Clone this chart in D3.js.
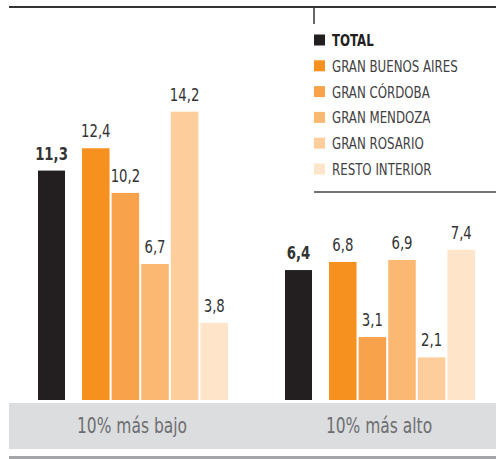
<!DOCTYPE html>
<html>
<head>
<meta charset="utf-8">
<script src="https://cdn.jsdelivr.net/npm/d3@7"></script>
<style>
  body { margin: 0; background: #fff; }
  text { font-family: "DejaVu Sans Condensed", "Liberation Sans", sans-serif; }
</style>
</head>
<body>
<div id="chart"></div>
<script>
// data
let groups = ['10% más bajo', '10% más alto'];
let regions = ['GRAN BUENOS AIRES', 'GRAN CÓRDOBA', 'GRAN MENDOZA', 'GRAN ROSARIO', 'RESTO INTERIOR'];
let totalValues = [11.3, 6.4];
let regionValues = [
    [12.4, 10.2, 6.7, 14.2, 3.8],
    [6.8, 3.1, 6.9, 2.1, 7.4]
];
let legendLabels = ['TOTAL'].concat(regions);
let colors = ['#231f20', '#f6901e', '#f9a24c', '#fbb873', '#fdcd9b', '#fee4c9'];

let width = 496, height = 459;
let squeeze = 0.82; // condensed look

let svg = d3.select('#chart')
    .append('svg')
    .attr('width', width)
    .attr('height', height);

function place(x, y) {
    return 'translate(' + x + ',' + y + ') scale(' + squeeze + ',1)';
}

//Scales
let y = d3.scaleLinear().domain([0, 14.2]).range([400, 111.7]);
let x0 = d3.scaleBand().domain(groups).range([38, 38 + 247 * groups.length]);
let xr = d3.scaleBand().domain(regions).range([44, 190]).paddingInner(0.07);
let color = d3.scaleOrdinal().domain(legendLabels).range(colors);

let data = [];
groups.forEach(function (g, i) {
    data.push({group: g, key: 'TOTAL', value: totalValues[i], x: x0(g), w: 27});
    regions.forEach(function (r, j) {
        data.push({group: g, key: r, value: regionValues[i][j], x: x0(g) + xr(r), w: xr.bandwidth()});
    });
});

// top rule
svg.append('line')
    .attr('x1', 9).attr('x2', width)
    .attr('y1', 7).attr('y2', 7)
    .attr('stroke', '#333').attr('stroke-width', 2);

// bottom band
svg.append('rect')
    .attr('x', 9).attr('y', 403)
    .attr('width', width - 9).attr('height', 46)
    .attr('fill', '#dcdddf');
svg.append('rect')
    .attr('x', 9).attr('y', 456)
    .attr('width', width - 9).attr('height', 3)
    .attr('fill', '#a3a5a8');

svg.selectAll('.cat').data(groups).enter()
    .append('text')
    .attr('class', 'cat')
    .attr('transform', function (d) { return place(x0(d) + 94, 433); })
    .attr('text-anchor', 'middle')
    .attr('font-size', '21px')
    .attr('fill', '#6d6e71')
    .text(function (d) { return d; });

// bars
svg.selectAll('.bar').data(data).enter()
    .append('rect')
    .attr('class', 'bar')
    .attr('x', function (d) { return d.x; })
    .attr('y', function (d) { return y(d.value); })
    .attr('width', function (d) { return d.w; })
    .attr('height', function (d) { return y(0) - y(d.value); })
    .attr('fill', function (d) { return color(d.key); });

let fmt = function (v) { return d3.format('.1f')(v).replace('.', ','); };

svg.selectAll('.val').data(data).enter()
    .append('text')
    .attr('class', 'val')
    .attr('transform', function (d) { return place(d.x + d.w / 2, y(d.value) - 11); })
    .attr('text-anchor', 'middle')
    .attr('font-size', '18px')
    .attr('font-weight', function (d) { return d.key === 'TOTAL' ? 'bold' : 'normal'; })
    .attr('fill', '#333')
    .text(function (d) { return fmt(d.value); });

// legend
let legend = svg.append('g').attr('transform', 'translate(314,0)');
legend.append('line')
    .attr('x1', 0).attr('x2', 0).attr('y1', 7).attr('y2', 24)
    .attr('stroke', '#333').attr('stroke-width', 1.5);
legend.append('line')
    .attr('x1', 0).attr('x2', width - 314).attr('y1', 192).attr('y2', 192)
    .attr('stroke', '#444').attr('stroke-width', 1.5);

let items = legend.selectAll('.item').data(legendLabels).enter()
    .append('g')
    .attr('class', 'item')
    .attr('transform', function (d, i) { return 'translate(0,' + (40 + i * 25.8) + ')'; });
items.append('rect')
    .attr('x', 0).attr('y', -5.5)
    .attr('width', 11).attr('height', 11)
    .attr('fill', function (d) { return color(d); });
items.append('text')
    .attr('transform', place(18, 6))
    .attr('font-size', '16px')
    .attr('font-weight', function (d) { return d === 'TOTAL' ? 'bold' : 'normal'; })
    .attr('fill', function (d) { return d === 'TOTAL' ? '#231f20' : '#414042'; })
    .text(function (d) { return d; });
</script>
</body>
</html>
